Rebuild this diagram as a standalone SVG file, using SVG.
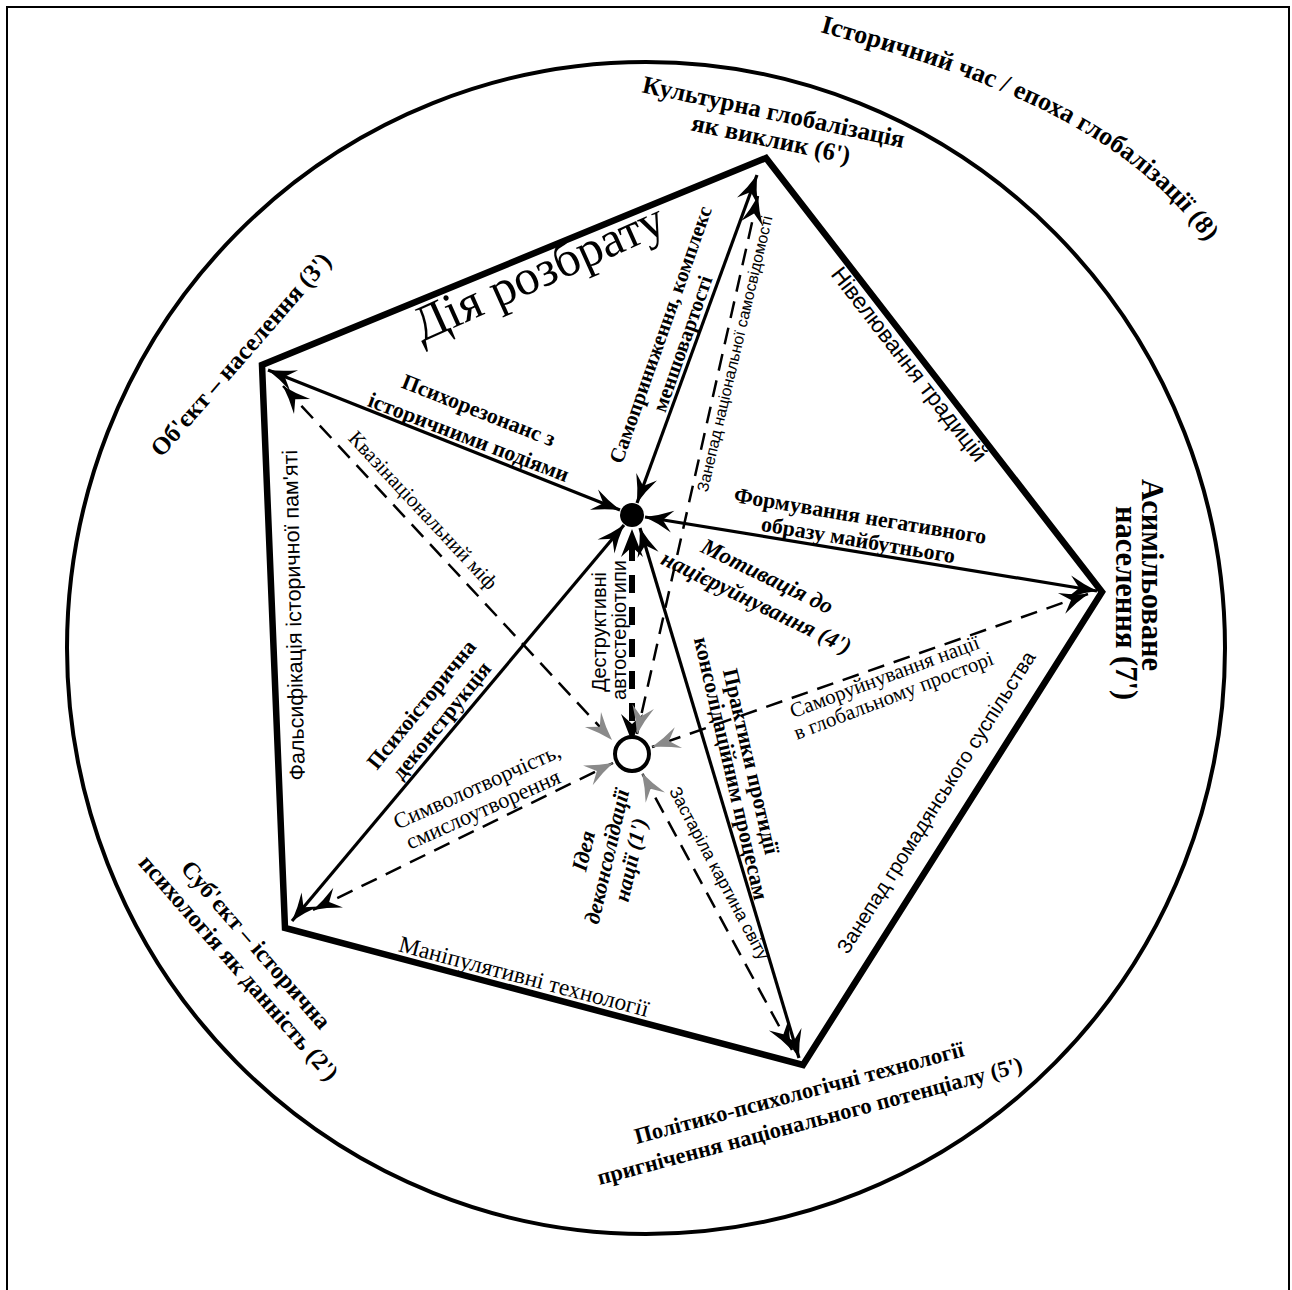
<svg xmlns="http://www.w3.org/2000/svg" width="1292" height="1290" viewBox="0 0 1292 1290">
<style>
text{text-anchor:middle;fill:#000}
.b{font-family:"Liberation Serif","Times New Roman",serif;font-weight:bold}
.bi{font-family:"Liberation Serif","Times New Roman",serif;font-weight:bold;font-style:italic}
.r{font-family:"Liberation Serif","Times New Roman",serif}
.s{font-family:"Liberation Sans",Arial,sans-serif}
.sol{fill:none;stroke:#000;stroke-width:3.2;marker-start:url(#ah);marker-end:url(#ah)}
.dsh{fill:none;stroke:#000;stroke-width:2.5;stroke-dasharray:17 10;marker-start:url(#ah);marker-end:url(#ahg)}
</style>
<defs>
<marker id="ah" viewBox="-30 -12 32 24" refX="0" refY="0" markerWidth="32" markerHeight="24" markerUnits="userSpaceOnUse" orient="auto-start-reverse">
<path d="M0,0 Q-14,-4 -28,-11 L-18,0 L-28,11 Q-14,4 0,0 Z" fill="#000"/>
</marker>
<marker id="ahg" viewBox="-30 -12 32 24" refX="0" refY="0" markerWidth="32" markerHeight="24" markerUnits="userSpaceOnUse" orient="auto-start-reverse">
<path d="M0,0 Q-14,-4 -28,-11 L-18,0 L-28,11 Q-14,4 0,0 Z" fill="#8a8a8a"/>
</marker>
<marker id="aht" viewBox="-30 -12 32 24" refX="-14" refY="0" markerWidth="32" markerHeight="24" markerUnits="userSpaceOnUse" orient="auto-start-reverse">
<path d="M0,0 L-28,-11 L-18,0 L-28,11 Z" fill="#000"/>
</marker>
<path id="arcText" d="M820,32 C960,70 1120,120 1205,240 L1250,320"/>
</defs>

<rect x="7" y="7" width="1282" height="1300" fill="none" stroke="#000" stroke-width="2"/>
<ellipse id="epoch" cx="646" cy="648" rx="579" ry="586" fill="none" stroke="#000" stroke-width="4"/>
<path id="pentagon" d="M766,158 L1102,592 L803,1065 L285,928 L262,365 Z" fill="none" stroke="#000" stroke-width="6.5" stroke-linejoin="miter"/>

<g id="connectors">
<path class="sol" d="M268,370 L620,510"/>
<path class="sol" d="M757,175 L637,503"/>
<path class="sol" d="M1097,591 L645,517"/>
<path class="sol" d="M799,1058 L640,528"/>
<path class="sol" d="M292,921 L624,525"/>
<path d="M632,543 L632,728" fill="none" stroke="#000" stroke-width="6" stroke-dasharray="18 14" marker-start="url(#aht)" marker-end="url(#aht)"/>
<path class="dsh" d="M283,386 L612,740"/>
<path class="dsh" d="M758,196 L637,734"/>
<path class="dsh" d="M1088,594 L652,747"/>
<path class="dsh" d="M313,910 L613,763"/>
<path class="dsh" d="M792,1050 L642,773"/>
</g>

<g id="node-centre">
<circle cx="632" cy="515" r="12" fill="#000"/>
</g>
<g id="node-idea">
<circle cx="632" cy="754" r="17" fill="#fff" stroke="#000" stroke-width="4"/>
<g transform="translate(614,858) rotate(-77)">
<text class="bi" font-size="22" x="0" y="-24">Ідея</text>
<text class="bi" font-size="22" x="0" y="0">деконсолідації</text>
<text class="bi" font-size="22" x="2" y="24">нації (1')</text>
</g>
</g>

<g id="node-epoch">
<text class="b" font-size="26" style="text-anchor:start"><textPath href="#arcText">Історичний час / епоха глобалізації (8)</textPath></text>
</g>
<g id="node-culture">
<g transform="translate(772,120) rotate(12)">
<text class="b" font-size="25" x="0" y="0">Культурна глобалізація</text>
<text class="b" font-size="25" x="3" y="27">як виклик (6')</text>
</g>
</g>
<g id="node-object">
<text class="b" font-size="25" transform="translate(247,360) rotate(-49)">Об'єкт – населення (3')</text>
</g>
<g id="node-subject">
<g transform="translate(250,950) rotate(49)">
<text class="b" font-size="24" x="0" y="0">Суб'єкт – історична</text>
<text class="b" font-size="24" x="6" y="28">психологія як данність (2')</text>
</g>
</g>
<g id="node-assimilated">
<text class="b" font-size="30.5" transform="translate(1142,575) rotate(90)">Асимільоване</text>
<text class="b" font-size="30.5" transform="translate(1116,603) rotate(90)">населення (7')</text>
</g>
<g id="node-technologies">
<g transform="translate(801,1100) rotate(-15)">
<text class="b" font-size="22.5" x="0" y="0">Політико-психологічні технології</text>
<text class="b" font-size="22.5" x="3" y="30">пригнічення національного потенціалу (5')</text>
</g>
</g>
<g id="node-motivation">
<text class="bi" font-size="23" transform="translate(764,583) rotate(26)">Мотивація до</text>
<text class="bi" font-size="23" transform="translate(753,609) rotate(26)">націєруйнування (4')</text>
</g>

<g id="labels">
<text class="r" font-size="50" transform="translate(545,287) rotate(-24.2)">Дія розбрату</text>
<text class="b" font-size="22" transform="translate(476,417) rotate(21.5)">Психорезонанс з</text>
<text class="b" font-size="22" transform="translate(466,444) rotate(21)">історичними подіями</text>
<text class="r" font-size="21" transform="translate(418,515) rotate(47)">Квазінаціональний міф</text>
<text class="s" font-size="21.5" transform="translate(301,615) rotate(-91.3)">Фальсифікація історичної пам'яті</text>
<text class="b" font-size="21" transform="translate(667,337) rotate(-70.6)">Самоприниження, комплекс</text>
<text class="b" font-size="21" transform="translate(689,346) rotate(-70.6)">меншовартості</text>
<text class="s" font-size="16" transform="translate(740,355) rotate(-76.7)">Занепад національної самосвідомості</text>
<text class="s" font-size="23" transform="translate(903,369) rotate(52.3)">Нівелювання традицій</text>
<text class="b" font-size="22" transform="translate(859,523) rotate(9.5)">Формування негативного</text>
<text class="b" font-size="22" transform="translate(857,547) rotate(9.5)">образу майбутнього</text>
<text class="r" font-size="21" transform="translate(887,683) rotate(-20.5)">Саморуйнування нації</text>
<text class="r" font-size="21" transform="translate(896,702) rotate(-21)">в глобальному просторі</text>
<text class="b" font-size="22" transform="translate(744,763) rotate(77)">Практики протидії</text>
<text class="b" font-size="22" transform="translate(724,770) rotate(77)">консолідаційним процесам</text>
<text class="b" font-size="22" transform="translate(427,709) rotate(-51)">Психоісторична</text>
<text class="b" font-size="22" transform="translate(447,725) rotate(-51)">деконструкція</text>
<text class="s" font-size="20" transform="translate(606,632) rotate(-90)">Деструктивні</text>
<text class="s" font-size="20" transform="translate(626,630) rotate(-90)">автостеріотипи</text>
<text class="r" font-size="22.5" transform="translate(480,793) rotate(-24)">Символотворчість,</text>
<text class="r" font-size="22.5" transform="translate(486,816) rotate(-24)">смислоутворення</text>
<text class="s" font-size="17.5" transform="translate(714,876) rotate(62)">Застаріла картина світу</text>
<text class="s" font-size="20.5" transform="translate(942,806) rotate(-57.7)">Занепад громадянського суспільства</text>
<text class="r" font-size="23.5" transform="translate(522,984) rotate(14.8)">Маніпулятивні технології</text>
</g>
</svg>
